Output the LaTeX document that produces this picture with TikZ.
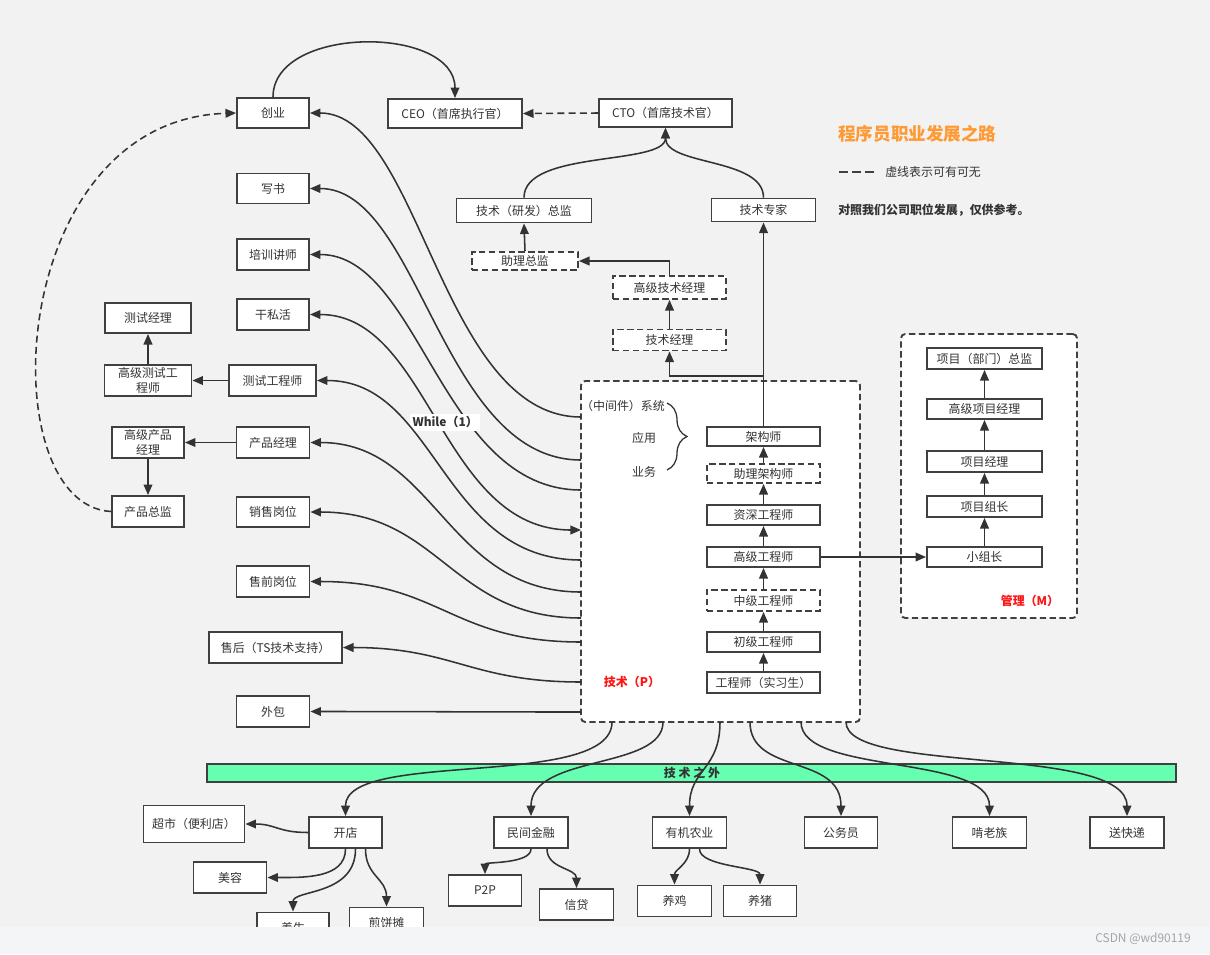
\documentclass[tikz,border=0pt]{standalone}
\usepackage{fontspec}
\setmainfont{Noto Sans CJK SC}
\usetikzlibrary{arrows.meta,calc,decorations.pathreplacing}
\definecolor{bg}{RGB}{242,242,242}
\definecolor{stripc}{RGB}{244,245,247}
\definecolor{ink}{RGB}{51,51,51}
\definecolor{edgec}{RGB}{64,64,64}
\definecolor{bandc}{RGB}{102,255,178}
\definecolor{orng}{RGB}{255,153,51}
\definecolor{redt}{RGB}{255,20,20}
\definecolor{wm}{RGB}{165,165,165}
\begin{document}
\begin{tikzpicture}[x=0.025cm,y=-0.025cm,
  font=\fontsize{8.5}{10.5}\selectfont, text=ink,
  >={Triangle[length=7.5pt,width=6.2pt]},
  sz/.style 2 args={minimum width=#1*0.025cm, minimum height=#2*0.025cm},
  box/.style={draw=edgec, line width=1.35pt, fill=white, inner sep=0pt, align=center},
  dbox/.style={box, dash pattern=on 4.5pt off 2.5pt},
  bigbox/.style={draw=edgec, line width=1.35pt, fill=white, dash pattern=on 4.5pt off 2.5pt, rounded corners=3pt, inner sep=0pt},
  conn/.style={draw=ink, line width=1.1pt, ->},
  both/.style={draw=ink, line width=1.1pt, <->},
  dconn/.style={conn, dash pattern=on 5pt off 3pt},
  lbl/.style={inner sep=0pt},
  bold/.style={font=\fontsize{8.5}{10.5}\selectfont\bfseries}
]
\useasboundingbox (0,0) rectangle (1210,954);
\fill[bg] (0,0) rectangle (1210,954);

% ---------- top ----------
\node[box,sz={72}{30}] (cy) at (273,113) {创业};
\node[box,sz={134}{29}] (ceo) at (455,113.5) {CEO（首席执行官）};
\node[box,sz={133}{28}] (cto) at (665.5,113) {CTO（首席技术官）};
\node[box,sz={135}{24}] (jszj) at (524,210.5) {技术（研发）总监};
\node[box,sz={104}{23}] (zj) at (763.5,210) {技术专家};
\node[dbox,sz={106}{18}] (zlzj) at (525,261) {助理总监};
\node[dbox,sz={113}{23}] (gjjl) at (669.5,287.5) {高级技术经理};
\node[dbox,sz={113}{21}] (jsjl) at (669.5,340) {技术经理};

% ---------- left column ----------
\node[box,sz={72}{30}] (xs) at (273,188.5) {写书};
\node[box,sz={72}{31}] (px) at (273,254.5) {培训讲师};
\node[box,sz={72}{31}] (gsh) at (273,314.5) {干私活};
\node[box,sz={86}{30}] (csjl) at (148,318) {测试经理};
\node[box,sz={87}{31}] (gjcs) at (148,380.5) {高级测试工\\程师};
\node[box,sz={87}{31}] (csgc) at (272.5,380.5) {测试工程师};
\node[box,sz={72}{31}] (gjcp) at (148,442.5) {高级产品\\经理};
\node[box,sz={73}{31}] (cpjl) at (273,442.5) {产品经理};
\node[box,sz={72}{31}] (cpzj) at (148,511.5) {产品总监};
\node[box,sz={73}{30}] (xsgw) at (273,512) {销售岗位};
\node[box,sz={73}{31}] (sqgw) at (273,581.5) {售前岗位};
\node[box,sz={133}{31}] (sh) at (275.5,647.5) {售后（TS技术支持）};
\node[box,sz={73}{31}] (wb) at (273,711.5) {外包};

% ---------- technical box ----------
\node[bigbox,sz={279}{341}] (tech) at (720.5,551.5) {};
\node[lbl] (zjj) at (623,406) {（中间件）系统};
\node[lbl] (yy) at (644,438) {应用};
\node[lbl] (yw) at (644,472) {业务};
\draw[ink, line width=0.9pt, decorate, decoration={brace, amplitude=0.5cm}] (667,403) -- (667,470);
\node[box,sz={113}{19}] (jgs) at (763.5,436.5) {架构师};
\node[dbox,sz={113}{19}] (zljgs) at (763.5,473.5) {助理架构师};
\node[box,sz={113}{20}] (zsgc) at (763.5,515) {资深工程师};
\node[box,sz={113}{20}] (gjgc) at (763.5,557) {高级工程师};
\node[dbox,sz={113}{21}] (zjgc) at (763.5,600.5) {中级工程师};
\node[box,sz={113}{20}] (cjgc) at (763.5,642) {初级工程师};
\node[box,sz={113}{21}] (gcs) at (763.5,682.5) {工程师（实习生）};
\node[lbl,bold,text=redt] (jsP) at (632,682) {技术（P）};

% ---------- management box ----------
\node[bigbox,sz={176}{284}] (mgmt) at (989,476) {};
\node[box,sz={115}{21}] (xmzj) at (984.5,358.5) {项目（部门）总监};
\node[box,sz={115}{20}] (gjxm) at (984.5,409) {高级项目经理};
\node[box,sz={115}{21}] (xmjl) at (984.5,461.5) {项目经理};
\node[box,sz={115}{21}] (xmzz) at (984.5,506.5) {项目组长};
\node[box,sz={115}{20}] (xzz) at (984.5,557) {小组长};
\node[lbl,bold,text=redt] (glM) at (1030,601) {管理（M）};

% ---------- legend ----------
\node[lbl,anchor=west,text=orng,font=\fontsize{12.5}{14}\selectfont\bfseries] (title) at (838,134) {程序员职业发展之路};
\draw[edgec, line width=1.8pt, dash pattern=on 6.4pt off 2.8pt] (839,172) -- (875,172);
\node[lbl,anchor=west] (leg) at (885,172) {虚线表示可有可无};
\node[lbl,anchor=west,bold] (note) at (838,210) {对照我们公司职位发展，仅供参考。};

% ---------- band ----------
\node[draw=edgec,line width=1.35pt,fill=bandc,sz={969}{18},inner sep=0pt] (band) at (691.5,773) {};
\node[lbl,bold] (bandt) at (692,773) {技 术 之 外};

% ---------- bottom nodes ----------
\node[box,sz={101}{37}] (cs) at (194,824) {超市（便利店）};
\node[box,sz={73}{31}] (kd) at (345.5,832.5) {开店};
\node[box,sz={73}{31}] (my) at (230,877.5) {美容};
\node[box,sz={72}{31}] (ys) at (293,928) {养生};
\node[box,sz={74}{31}] (jb) at (386.5,923) {煎饼摊};
\node[box,sz={74}{31}] (mj) at (531,832.5) {民间金融};
\node[box,sz={73}{31}] (p2p) at (485,890.5) {P2P};
\node[box,sz={74}{31}] (xd) at (576.5,904.5) {信贷};
\node[box,sz={74}{31}] (yj) at (689.5,832.5) {有机农业};
\node[box,sz={74}{31}] (yji) at (674.5,901) {养鸡};
\node[box,sz={73}{31}] (yz) at (760,901) {养猪};
\node[box,sz={73}{31}] (gwy) at (841,832.5) {公务员};
\node[box,sz={74}{31}] (kl) at (989.5,832.5) {啃老族};
\node[box,sz={74}{31}] (sk) at (1127,832.5) {送快递};

% ---------- connectors: top ----------
\draw[conn] (cy.north) .. controls (273,25) and (455,25) .. (ceo.north);
\draw[dconn] (cto.west) -- (ceo.east);
\draw[conn] (jszj.north) .. controls +(0,-48) and +(0,38) .. (cto.south);
\draw[conn] (zj.north) .. controls +(0,-40) and +(0,38) .. (cto.south);
\draw[conn] (zlzj.north) -- (jszj.south);
\draw[conn] (gjjl.north) |- (zlzj.east);
\draw[conn] (jsjl.north) -- (gjjl.south);
\coordinate (jbend) at (763.5,376);
\draw[conn] (jgs.north) -- (jbend) -| (jsjl.south);
\draw[conn] (jgs.north) -- (zj.south);

% ---------- connectors: technical ladder ----------
\draw[conn] (gcs.north) -- (cjgc.south);
\draw[conn] (cjgc.north) -- (zjgc.south);
\draw[conn] (zjgc.north) -- (gjgc.south);
\draw[conn] (gjgc.north) -- (zsgc.south);
\draw[conn] (zsgc.north) -- (zljgs.south);
\draw[conn] (zljgs.north) -- (jgs.south);
\draw[conn] (gjgc.east) -- (xzz.west);

% ---------- connectors: management ladder ----------
\draw[conn] (xzz.north) -- (xmzz.south);
\draw[conn] (xmzz.north) -- (xmjl.south);
\draw[conn] (xmjl.north) -- (gjxm.south);
\draw[conn] (gjxm.north) -- (xmzj.south);

% ---------- connectors: left ----------
\draw[conn] (csgc.west) -- (gjcs.east);
\draw[conn] (gjcs.north) -- (csjl.south);
\draw[conn] (cpjl.west) -- (gjcp.east);
\draw[conn] (gjcp.south) -- (cpzj.north);
\draw[dconn] (cpzj.west) .. controls (-10,505) and (5,120) .. (cy.west);

\coordinate (t1) at (581,417);
\coordinate (t2) at (581,460);
\coordinate (t3) at (581,490);
\coordinate (t4) at (581,530);
\coordinate (t5) at (581,560);
\coordinate (t6) at (581,592);
\coordinate (t7) at (581,618);
\coordinate (t8) at (581,642);
\coordinate (t9) at (581,682);
\coordinate (t10) at (581,712);
\draw[conn] (t1) .. controls +(-140,0) and +(110,0) .. (cy.east);
\draw[conn] (t2) .. controls +(-140,0) and +(110,0) .. (xs.east);
\draw[conn] (t3) .. controls +(-140,0) and +(110,0) .. (px.east);
\draw[both] (t4) .. controls +(-140,0) and +(120,0) .. (gsh.east)
  node[pos=0.5, fill=white, inner sep=1.8pt, bold, xshift=0.18cm] (wl) {While（1）};
\draw[conn] (t5) .. controls +(-140,0) and +(120,0) .. (csgc.east);
\draw[conn] (t6) .. controls +(-135,0) and +(125,0) .. (cpjl.east);
\draw[conn] (t7) .. controls +(-130,0) and +(130,0) .. (xsgw.east);
\draw[conn] (t8) .. controls +(-130,0) and +(130,0) .. (sqgw.east);
\draw[conn] (t9) .. controls +(-110,0) and +(110,0) .. (sh.east);
\draw[conn] (t10) .. controls +(-100,0) and +(100,0) .. (wb.east);

% ---------- connectors: bottom ----------
\coordinate (b1) at (612,722);
\coordinate (b2) at (663,722);
\coordinate (b3) at (720,722);
\coordinate (b4) at (750,722);
\coordinate (b5) at (801,722);
\coordinate (b6) at (846,722);
\draw[conn] (b1) .. controls +(0,68) and +(0,-67) .. (kd.north);
\draw[conn] (b2) .. controls +(0,48) and +(0,-62) .. (mj.north);
\draw[conn] (b3) .. controls +(0,48) and +(0,-47) .. (yj.north);
\draw[conn] (b4) .. controls +(0,53) and +(0,-62) .. (gwy.north);
\draw[conn] (b5) .. controls +(0,53) and +(0,-62) .. (kl.north);
\draw[conn] (b6) .. controls +(0,53) and +(0,-72) .. (sk.north);

\draw[conn] (kd.west) .. controls +(-30,0) and +(30,0) .. (cs.east);
\draw[conn] (kd.south) .. controls +(0,30) and +(35,0) .. (my.east);
\draw[conn] ($(kd.south)+(10,0)$) .. controls +(0,47) and +(0,-22) .. (ys.north);
\draw[conn] ($(kd.south)+(20,0)$) .. controls +(0,27) and +(0,-28) .. (jb.north);
\draw[conn] (mj.south) .. controls +(0,15) and +(0,-12) .. (p2p.north);
\draw[conn] ($(mj.south)+(16,0)$) .. controls +(0,20) and +(0,-20) .. (xd.north);
\draw[conn] (yj.south) .. controls +(0,15) and +(0,-15) .. (yji.north);
\draw[conn] ($(yj.south)+(10,0)$) .. controls +(0,18) and +(0,-18) .. (yz.north);

% ---------- bottom strip ----------
\fill[stripc] (0,927) rectangle (1210,954);
\node[lbl,text=wm,font=\fontsize{8.5}{10}\selectfont] (wmk) at (1143,939) {CSDN @wd90119};
\end{tikzpicture}
\end{document}
